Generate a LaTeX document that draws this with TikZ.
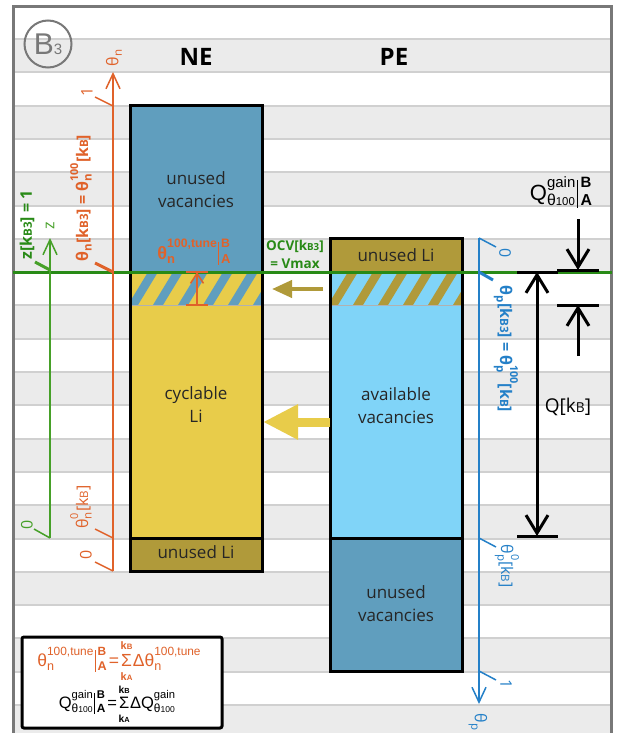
\documentclass[tikz,border=0pt]{standalone}
\usepackage{fontspec}
\setmainfont{Open Sans}
\newfontfamily\arialfont{Liberation Sans}
\usetikzlibrary{positioning,arrows.meta}

\definecolor{frameGray}{RGB}{120,120,120}
\definecolor{bandGray}{RGB}{235,235,235}
\definecolor{bandLine}{RGB}{208,208,208}
\definecolor{vacBlue}{RGB}{96,158,190}
\definecolor{liBlue}{RGB}{128,212,248}
\definecolor{liYellow}{RGB}{232,204,74}
\definecolor{liOlive}{RGB}{176,154,58}
\definecolor{neOrange}{RGB}{224,98,42}
\definecolor{ocvGreen}{RGB}{40,138,22}
\definecolor{zGreen}{RGB}{70,160,40}
\definecolor{peBlue}{RGB}{36,128,200}

\newsavebox\supbox
\newsavebox\subbox
\newcommand{\supsub}[2]{%
  \sbox\supbox{\scalebox{0.68}{#1}}\sbox\subbox{\scalebox{0.72}{#2}}%
  \rlap{\raisebox{0.62em}{\usebox\supbox}}\raisebox{-0.22em}{\usebox\subbox}%
  \ifdim\wd\supbox>\wd\subbox\kern\dimexpr\wd\supbox-\wd\subbox\relax\fi}
\newcommand{\kidx}[1]{k\scalebox{0.72}{#1}}
\newcommand{\evalAB}{\kern0.08em\raisebox{-0.3em}{\rule{0.06em}{1.25em}}\kern0.1em\supsub{\bfseries B}{\bfseries A}}
\newcommand{\sumAB}{\makebox[0.62em]{Σ}%
  \llap{\makebox[0.62em]{\raisebox{0.95em}{\scalebox{0.62}{\bfseries\kidx{B}}}}}%
  \llap{\makebox[0.62em]{\raisebox{-0.8em}{\scalebox{0.62}{\bfseries\kidx{A}}}}}}
\newcommand{\thSmall}{θ\scalebox{0.72}{100}}

\tikzset{
boxtxt/.style={align=center, text=black!85, font=\fontsize{17}{23}\selectfont},
axlbl/.style={inner sep=0, font=\fontsize{16}{16}\selectfont},
axbold/.style={inner sep=0, font=\bfseries\fontsize{16}{16}\selectfont},
dimline/.style={line width=3, black},
dimtip/.style={-{Straight Barb[length=18pt,width=22pt]}},
axtip/.style={-{Straight Barb[length=15pt,width=14pt]}},
}

\begin{document}
\begin{tikzpicture}[x=1pt,y=-1pt]
\useasboundingbox (0,0) rectangle (622,733);
\fill[white] (0,0) rectangle (622,733);

% bands and frame
\foreach \yb in {39,105.6,...,706} \fill[bandGray] (14,\yb) rectangle (611,\yb+33.3);
\foreach \yl in {39,72.3,...,734} \draw[bandLine,line width=2] (14,\yl) -- (611,\yl);
\draw[frameGray,line width=3] (13.5,740) -- (13.5,6.5) -- (611.5,6.5) -- (611.5,740);

\node[circle,draw=frameGray,line width=2,minimum size=47,inner sep=0,text=frameGray,
  font=\arialfont\fontsize{30}{30}\selectfont] (badge) at (48,44) {B{\fontsize{15}{15}\selectfont 3}};

\node[font=\bfseries\fontsize{24}{24}\selectfont] (neTitle) at (196,57) {NE};
\node[font=\bfseries\fontsize{24}{24}\selectfont] (peTitle) at (394,57) {PE};

% NE column
\fill[vacBlue] (130,106) rectangle (262,272);
\fill[liYellow] (130,272) rectangle (262,538);
\begin{scope}
  \clip (130,272) rectangle (262,305);
  \foreach \xs in {103,128,...,280}
    \fill[vacBlue] (\xs,305) -- ++(10,0) -- ++(20,-33) -- ++(-10,0) -- cycle;
\end{scope}
\draw[bandLine!85!black,line width=0.8] (130,305) -- (262,305);
\fill[liOlive] (130,538) rectangle (262,571);
\draw[line width=3] (130,538) -- (262,538);
\draw[line width=3] (130,106) rectangle (262,571);

% PE column
\fill[liOlive] (330,238) rectangle (462,272);
\fill[liBlue] (330,272) rectangle (462,538);
\begin{scope}
  \clip (330,272) rectangle (462,305);
  \foreach \xs in {303,328,...,480}
    \fill[liOlive] (\xs,305) -- ++(10,0) -- ++(20,-33) -- ++(-10,0) -- cycle;
\end{scope}
\draw[bandLine!85!black,line width=0.8] (330,305) -- (462,305);
\fill[vacBlue] (330,538) rectangle (462,671);
\draw[line width=3] (330,272) -- (462,272);
\draw[line width=3] (330,538) -- (462,538);
\draw[line width=3] (330,238) rectangle (462,671);

% fully charged level
\coordinate (ocvL) at (13,272);
\coordinate (ocvR) at (612,272);
\draw[ocvGreen,line width=3] (ocvL) -- (ocvR);

\node[boxtxt] (neVac) at (196,190) {unused\\vacancies};
\node[boxtxt] (neCyc) at (196,405) {cyclable\\Li};
\node[boxtxt] (neLi) at (196,552) {unused Li};
\node[boxtxt] (peLi) at (396,255) {unused Li};
\node[boxtxt] (peAvail) at (396,406) {available\\vacancies};
\node[boxtxt] (peVac) at (396,604) {unused\\vacancies};

\node[text=ocvGreen,align=center,inner sep=0,font=\bfseries\fontsize{13.5}{18}\selectfont] (ocv) at (295,254)
  {OCV[\kidx{B3}]\\= Vmax};

% lithium shifts
\coordinate (olvS) at (323,289);
\coordinate (olvE) at (272,289);
\draw[liOlive,line width=4,-{Triangle[length=20pt,width=17pt]}] (olvS) -- (olvE);
\coordinate (yelS) at (330,422);
\coordinate (yelE) at (263,422);
\draw[liYellow,line width=9,-{Triangle[length=35pt,width=33pt]}] (yelS) -- (yelE);

% tune shift on NE
\coordinate (tuneB) at (197,305);
\coordinate (tuneT) at (197,272);
\draw[neOrange,line width=1.5,-{Straight Barb[length=10pt,width=13pt]}] (tuneB) -- (tuneT);
\draw[neOrange,line width=1.5] ([xshift=-11pt]tuneB) -- ([xshift=11pt]tuneB);
\draw[neOrange,line width=1.5] ([xshift=-11pt]tuneT) -- ([xshift=11pt]tuneT);
\node[text=neOrange,inner sep=0,font=\arialfont\bfseries\fontsize{18}{18}\selectfont] (tuneLbl) at (194,252)
  {θ\supsub{100,tune}{n}{\mdseries\evalAB}};

% z axis
\coordinate (zBot) at (50,538);
\coordinate (zTop) at (50,238);
\draw[zGreen,line width=1.5,axtip] (zBot) -- (zTop);
\draw[zGreen,line width=1.5] (zBot) -- ++(-16,-9);
\draw[zGreen,line width=3] ([yshift=2pt]50,272) -- ++(-15,-8);
\node[axlbl,rotate=90,text=zGreen] (zName) at (50,226) {z};
\node[axlbl,rotate=90,text=zGreen] (zZero) at (27,525) {0};
\node[axbold,rotate=90,text=ocvGreen] (zOne) at (27,225) {z[\kidx{B3}] = 1};

% theta_n axis
\coordinate (nBot) at (113,571);
\coordinate (nTop) at (113,72);
\draw[neOrange,line width=1.5,axtip] (nBot) -- (nTop);
\draw[neOrange,line width=1.5] (113,106) -- ++(-18,-9);
\draw[neOrange,line width=3] (113,272) -- ++(-18,-9);
\draw[neOrange,line width=1.5] (113,538) -- ++(-18,-9);
\draw[neOrange,line width=1.5] (nBot) -- ++(-18,-9);
\node[axlbl,rotate=90,text=neOrange] (nName) at (114,58) {θ\supsub{}{n}};
\node[axlbl,rotate=90,text=neOrange] (nOne) at (87,92) {1};
\node[axbold,rotate=90,text=neOrange] (nMax) at (81,198) {θ\supsub{}{n}[\kidx{B3}] = θ\supsub{100}{n}[\kidx{B}]};
\node[axlbl,rotate=90,text=neOrange] (nMin) at (81,507) {θ\supsub{0}{n}[\kidx{B}]};
\node[axlbl,rotate=90,text=neOrange] (nZero) at (86,555) {0};

% theta_p axis
\coordinate (pTop) at (479,238);
\coordinate (pBot) at (479,704);
\draw[peBlue,line width=1.5,axtip] (pTop) -- (pBot);
\draw[peBlue,line width=1.5] (pTop) -- ++(17,9);
\draw[peBlue,line width=3] (479,272) -- ++(14,8);
\draw[peBlue,line width=1.5] (479,538) -- ++(17,9);
\draw[peBlue,line width=1.5] (479,671) -- ++(17,9);
\node[axlbl,rotate=-90,text=peBlue] (pZero) at (505,253) {0};
\node[axbold,rotate=-90,text=peBlue] (pMax) at (506,349) {θ\supsub{}{p}[\kidx{B3}] = θ\supsub{100}{p}[\kidx{B}]};
\node[axlbl,rotate=-90,text=peBlue] (pMin) at (507,566) {θ\supsub{0}{p}[\kidx{B}]};
\node[axlbl,rotate=-90,text=peBlue] (pOne) at (506,684) {1};
\node[axlbl,rotate=-90,text=peBlue] (pName) at (478,722) {θ\supsub{}{p}};

% capacity dimensions
\coordinate (gTopA) at (578,219);
\coordinate (gTopB) at (578,270);
\draw[dimline,dimtip] (gTopA) -- (gTopB);
\draw[dimline] ([xshift=-21pt]gTopB) -- ([xshift=21pt]gTopB);
\coordinate (gBotA) at (578,356);
\coordinate (gBotB) at (578,305);
\draw[dimline,dimtip] (gBotA) -- (gBotB);
\draw[dimline] ([xshift=-21pt]gBotB) -- ([xshift=21pt]gBotB);
\node[inner sep=0,font=\arialfont\fontsize{22}{22}\selectfont] (gainLbl) at (561,192)
  {Q\supsub{gain}{\thSmall}\evalAB};

\coordinate (qTop) at (537,272);
\coordinate (qBot) at (537,536);
\draw[dimline,{Straight Barb[length=18pt,width=22pt]}-{Straight Barb[length=18pt,width=22pt]}] (qTop) -- (qBot);
\draw[dimline] ([xshift=-20pt]qTop) -- ([xshift=21pt]qTop);
\draw[dimline] ([xshift=-20pt]qBot) -- ([xshift=21pt]qBot);
\node[inner sep=0,font=\fontsize{19}{19}\selectfont] (qLbl) at (568,407) {Q[\kidx{B}]};

% legend
\node[draw,line width=3,fill=white,rounded corners=2,minimum width=200,minimum height=91,inner sep=0] (legend) at (122,682.5) {};
\node[inner sep=0,text=neOrange,font=\arialfont\fontsize{17.5}{18}\selectfont] (legTune) at (119,661)
  {θ\supsub{100,tune}{n}\evalAB\kern0.12em=\kern0.12em\sumAB\kern0.05emΔθ\supsub{100,tune}{n}};
\node[inner sep=0,font=\arialfont\fontsize{16.5}{17}\selectfont] (legGain) at (117,704)
  {Q\supsub{gain}{\thSmall}\evalAB\kern0.12em=\kern0.12em\sumAB\kern0.05emΔQ\supsub{gain}{\thSmall}};
\end{tikzpicture}
\end{document}
